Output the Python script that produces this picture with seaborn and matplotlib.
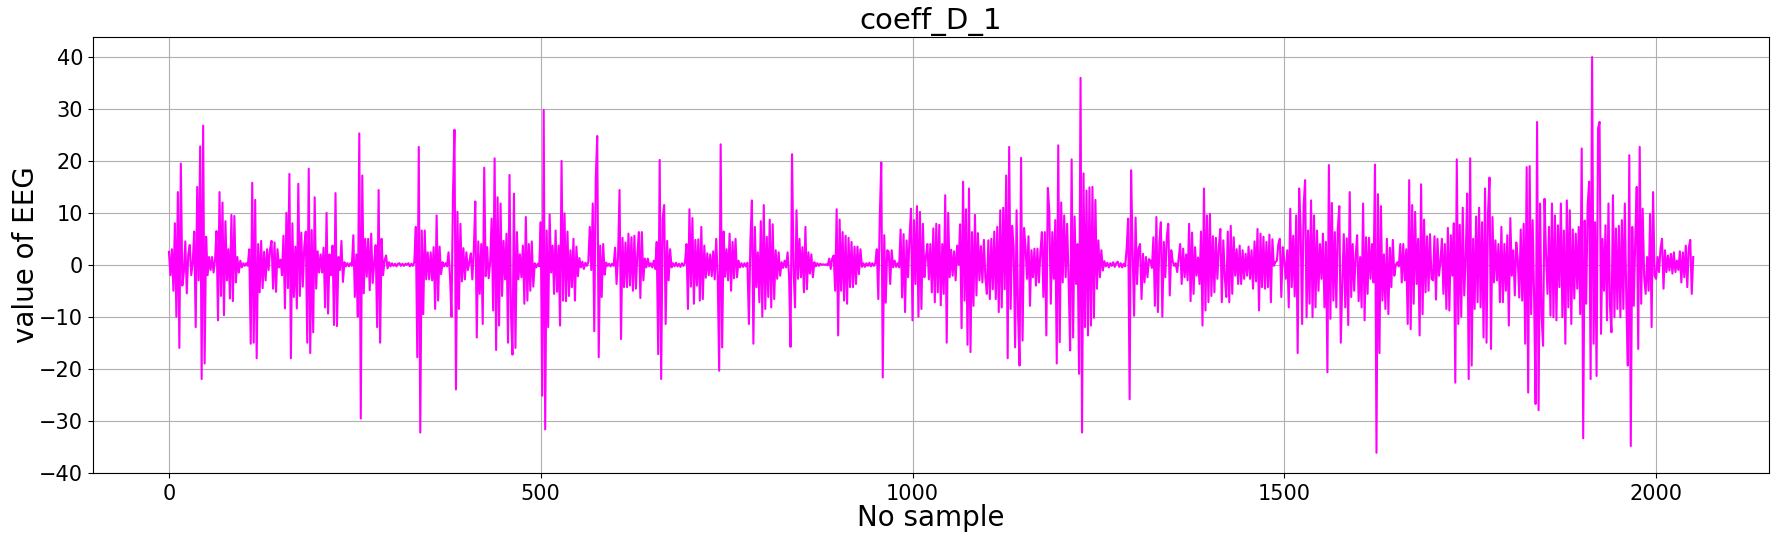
import matplotlib

matplotlib.use("Agg")
import matplotlib.pyplot as plt
import numpy as np
import seaborn as sns

# detail coefficients D1, every 2nd sample
SAMPLE_STEP = 2

# samples 0 - 498
d1_part_a = [
    2.5, -2, 3, -5, 8, -10, 14, -16, 19.5, -4, -1.5, 4.5, -5.5, 2, 3.8, -2, 0.5, 6.4, -12, 15, -3, 22.8, -22, 26.8, -19,
    5.4, -2, 1.5, -1, 1.5, -1.5, 1, 6.5, -10.7, 14, -6, 12, -9.7, 8.4, -3, 3, -6.5, 9.6, -7, 9.4, -3.4, 1.5, -1.5, 0.8, -0.5,
    0.3, -0.2, 0.3, -0.2, 3, -15.2, 15.8, -15, 12.5, -18, 4, -5.3, 4.6, -4.5, 2.5, -3, 3, -1, 3, 4.6, -4.6, 4.3, -5.2, 3, -0.5,
    1, -2, 5.6, -8.4, 10, -4.5, 17.5, -18, 8, -6.2, 3.5, -8.4, 15.6, -6, 6.2, -4.2, 3.5, 6.4, -15, 18.5, -17, 6.7, -13, 13, -4.6,
    2.6, -1.5, 2, -1.5, 3.3, -8.2, 10, -9.4, 2, -2, 3.7, -11.6, 13.8, -11.8, 1.5, -1, 4.6, -3.3, 0.5, -0.3, 0.3, -0.3, 0.3, -0.2, 5.7,
    -6.2, 2, -10, 25.3, -29.6, 17.2, -5.5, 5, -2.3, 5, -4.9, 6, -3.5, 0.5, 3.8, -12, 14.4, -15, 5, -2, 0.8, 1.8, -0.7, 0.5, -0.3,
    0.3, -0.2, 0.2, -0.3, 0.2, 0.3, -0.2, 0.2, -0.2, 0.2, 0, 0.3, -0.3, 0.2, -0.2, 0.5, 7.3, -17.8, 22.7, -32.3, 6.6, -9.5, 6.6, -2.8, 2.4,
    -2.8, 2.4, -3, 3.4, -8.5, 9.5, -6.9, 3.5, -1.8, 0.5, -0.3, 0.3, -0.3, 2.4, -2.2, -10, 13.8, 26, -24, 10.2, -8.5, 7.9, -3.2, 3.2, -2.8,
    2.4, -1, 0.5, 2.2, -2.8, 2.8, 12.2, -14, 4.5, -5.6, 4, -11.4, 18.7, -2.2, 3.4, -2.6, 0.5, 8.9, -8.8, 20.5, -16.4, 13, -11.7, 11.8, -6,
    4.6, -2.8, 6, -15, 17.3, -9.5, -17.3, 13.7, -16, 6.3, -2.8, 2, -2.4, 3.7, -7.5, 9.2, -6.9, 4, -5, 4.5, -4.2, 0.3, -0.5, 0.2, -0.3,
]

# samples 500 - 998
d1_part_b = [
    8.2, -25.2, 29.8, -31.7, 6.6, -12, 9.7, -1.5, 3.7, -5.6, 6.6, -5.2, 3.7, -11.7, 20, -6.9, 9.9, -7, 6.4, -6, 2.8, -4.3, 5, -6.9, 3.5,
    -2.2, 1.3, -0.5, 0.6, -0.8, 0.4, -0.2, 0.5, 7.3, -1, 11.8, -12.8, 16.5, 24.8, -17.8, 3.7, -6.2, 4, -1.9, 0.4, -0.2, 0.2, -0.3, 0.2, -0.2,
    3.3, -3.7, 1.6, 14.4, -14.3, 5.2, -4.3, 4.3, -4.3, 6, -4, 5.3, -5, 5.6, -4.6, 2.2, 6.3, -6.4, 6.3, -3, 1.2, -0.5, 1.2, -0.3, 0.3,
    -0.5, 0.8, -0.8, 4.4, -17.2, 20.2, -22, 8.9, 11.5, -11.4, 4.6, -3, 3, -0.5, 0.3, -0.3, 0.4, -0.3, 0.2, -0.4, 0.3, -0.2, 0.4, 4, -8.5,
    10.7, -4.2, 9, -7.5, 4.8, -4, 4.9, -6.9, 7.3, -6.6, 3.7, -2.5, 2.2, -2, 2, -2.2, 2.6, -2.8, 5, -2.3, -20.4, 23.2, -15.9, 6.4, -2.3,
    3, -3, 6, -5, 4.4, -2.6, 5, -2.4, 0.8, -0.5, 0.3, -0.4, 0.3, -0.3, 0.4, -11.4, 4.7, 12.4, -15.2, 7.3, -4.3, 2.4, -7.2, 8.4, -10,
    11.5, -8.5, 5.4, -6.2, 8.7, -8.2, 7.8, -6.6, 2.8, -2.7, 2.4, -2.1, 0.5, -0.6, 0.8, -0.5, 2.4, -2.1, -15.8, 21.3, -0.8, -8.2, 10.5, -2.7, 5,
    -2.4, 3.4, -5.3, 7.3, -4.7, 2.4, -1.7, 2, -2.4, 0.5, -0.3, 0.3, -0.2, 0.2, 0, 0.1, 0, 0.1, -0.1, 1.2, -0.8, 1.2, 1.8, -5, 10.7,
    -13.6, 8.7, -5, 6.3, -6.9, 5.6, -7.5, 5.2, -4.3, 4.4, -4.3, 3.5, -3.7, 3.5, -1.8, 3, -0.4, 0.3, -0.4, 0.3, -0.2, 0.4, -0.3, 0.3, -0.2,
    0.3, 3, -6.6, 9.2, 19.7, -21.7, 5.7, -7.3, 2.8, 2.5, -3.7, 2.8, -0.5, 0.8, -0.4, 0.3, -0.5, 6.8, -6.3, 5.9, -9.1, 4.7, -2.4, 5.3, 10.8,
]

# samples 1000 - 1498
d1_part_c = [
    -10.7, 8.6, -3.7, 11.3, -10, 10.2, -8.5, 7.9, -2.4, 1.5, 4, -2.8, 4, -5.3, 7, -7.2, 7.9, -5.3, 7.7, -7.8, 4, -5.6, 13.4, -15, 10,
    -2.4, 2.9, -2.1, 2.6, -3, 3.7, 0, 7.8, -12.2, 16, -6.9, 10.7, -15.4, 14.7, -16.8, 6.3, -7.9, 9.6, -5.9, 6.1, -3, 3.6, -3.4, 4.8, -2.4,
    -5.6, 4.7, -6.6, 5, -4.7, 6.4, -6.6, 7.3, -9.1, 10.5, -8.2, 11, -4.7, 17.2, -18, 22.7, -8.5, 7.5, 3.4, -15.9, 10.5, -9.8, -19.4, 20.6, -14.6,
    7.1, 3.4, -2.7, 5.5, -7.9, 2.8, -2.4, 3.1, -4, 3.1, -3.4, 2.4, 6.3, -6.2, 6.3, -13.6, 14.8, 10.3, -7.5, 6.3, -2.7, 8.6, -19, 23, -14.9,
    12, -3.4, 9.5, -2.4, 7.9, -3.4, -16.5, 20.3, -14, 9.3, -3.7, 4, -21, 36, -32.3, 17.6, -12, 14.3, -13.6, 14.9, -11.7, 15, -10.2, 12.5, -4.6,
    4.7, -2.4, 2.8, -1.1, 0.7, -0.3, 0.4, -0.5, 0.3, -0.2, 0.5, -0.4, 0.3, 0.6, -0.4, 0.3, -0.5, 0.2, -0.3, 3.1, 8.9, -25.9, 18.2, 2.8, -9.8,
    9.1, -3.7, 3.1, 4, -6.6, 2.1, -3.4, 1.5, -2.4, 1.1, 0.8, -0.6, 5.3, -7.9, 9.2, -9.1, 4.3, 8.2, -10, 4.4, -2.4, 5.4, 7.9, -5.9, 2.8,
    0.6, -0.2, 0.3, -1.4, 1.4, 4, -3.7, 3.1, -2.4, 2, -3, 7.9, -7, 6.2, -5.6, 3.4, -2.1, 1.4, -3.7, 6.4, -11.7, 14.7, -8.8, 9.5, -7.2,
    9.8, -6, 5.5, -5.3, 5.2, -2.7, 3.4, 6.9, -7.2, 4.7, -2.4, -6.2, 6.4, -7.2, 7.5, -5.6, 5.3, -2.1, 3, -3.7, 3.7, -3.7, 2.8, -2.7, 2.1,
    -2.1, 3.5, -2.7, 2.8, -4.6, 4.5, -3.2, 6.9, -8.8, 6, -4.3, 5.4, -4.6, 4.4, -4.3, 5.8, -7.2, 4.9, -0.2, 0.5, 0.8, 4, 5, -6.2, 3.4,
]

# samples 1500 - 2050
d1_part_d = [
    0.8, -2.7, 2.8, -8.2, 10.8, -4.3, 5.6, -6.1, 9.5, -17, 14.7, 6.9, -11.4, 11.3, 16.3, -10.1, 6.6, -7.5, 12.4, -10.1, 9.5, -8.2, 6.6, -5, 4,
    -2.7, 6, -8.2, 4.4, -20.7, 19.2, -10.4, 11.9, -6.9, 6.3, -8.2, 7, 11.3, -15, -3.7, 5.9, -8.2, 5.1, -11.6, 14, -6.2, 4, -5, 1.8, 5.7,
    -7, 1.5, -8.2, 11.8, -10.7, 5.3, -5.6, 5.2, -2.7, 4, -3.4, 19.3, -36.2, 13.6, -17, 11.3, -6.9, 2, -8.5, 5, -9.5, 3.3, -4.3, 4.8, -2.1,
    0, 0.5, -0.3, 4, -3.4, 4, -3, 3, -11.4, 16.3, -12.4, 11.5, -7.5, 10.2, -3.7, 5, -13.6, 15.5, -9.5, 8.7, -5.3, 5.5, -5, 5.9, -2.7,
    -3, 5.5, -6.7, 5, -2.1, 0.5, 5, -5.6, 4, -8.5, 7.1, -8.8, 5.7, -2.1, 8, -22.7, 20.3, -11.4, 7.7, -10, 11, -5.9, 1.5, 13.7, -22,
    20.5, -19.4, 5, -8.5, 9.3, -7.2, 11, -8.2, 8.2, -14, 14.7, -15, 9.9, 16.8, -16.2, 9.2, -3.4, 4.7, -3, 4, -7.2, 7.3, -7.2, 4, -5,
    5.7, -11.7, 9, -2.1, 2.8, -5.9, 4.3, 1.1, -6.3, 6.8, -6.9, 7.9, -15.2, 18.8, -24.6, 19, -9.5, 8.6, -6.3, -26.8, 27.5, -28, 11.8, -9.6, -15.6,
    12.7, 2.1, -5.6, 7.3, -9.8, 11.8, -10.1, 9.5, -10.7, 7.6, -4.3, 11.8, -10.1, 6.6, -15.2, 12.4, -8.2, 10.5, -11.4, 6.8, -6.5, 6, -4.6, 7.3, -9.5,
    22.4, -33.4, 8.5, -7.5, 11.5, 16, -22, 40, -15.2, 8.2, -21.4, 26.3, 27.5, -13.3, 5, -5, 7.6, -10.7, 11.8, -7.9, -13, 13.4, -10.1, 7, -8.5,
    7.5, -10.1, 8.6, -8.5, 11.8, -6.9, -19.4, 21.1, -34.9, 7.3, -7.9, 4.7, 15, -16.2, 22.7, -7.5, 10.8, -2.4, -5.6, 1.5, -5, 9.8, -12, 14, -2.1,
    -2.7, 1.5, -1.4, 3.1, 5, -4.6, 2.8, -1.4, 1.8, -1.1, 2.1, -1.7, 2.4, -1.4, 0.8, -1, 2.6, -3.4, 2.4, -2.4, 3.7, -4.3, 3.3, 4.8, -5.6, 1.5,
]


def main() -> None:
    values = np.concatenate([d1_part_a, d1_part_b, d1_part_c, d1_part_d])
    samples = np.arange(len(values)) * SAMPLE_STEP

    fig, ax = plt.subplots(figsize=(17.73, 5.38), dpi=100)
    fig.subplots_adjust(left=0.0523, right=0.998, top=0.9307, bottom=0.1216)

    sns.lineplot(x=samples, y=values, color="magenta", linewidth=1.5, estimator=None, ax=ax)

    ax.set_title("coeff_D_1", fontsize=21)
    ax.set_xlabel("No sample", fontsize=20, labelpad=0)
    ax.set_ylabel("value of EEG", fontsize=20, labelpad=-1)
    ax.tick_params(labelsize=15)
    ax.tick_params(axis="x", pad=5)
    ax.grid(True)

    fig.savefig("out.png", dpi=100)
    plt.close(fig)


if __name__ == "__main__":
    main()
